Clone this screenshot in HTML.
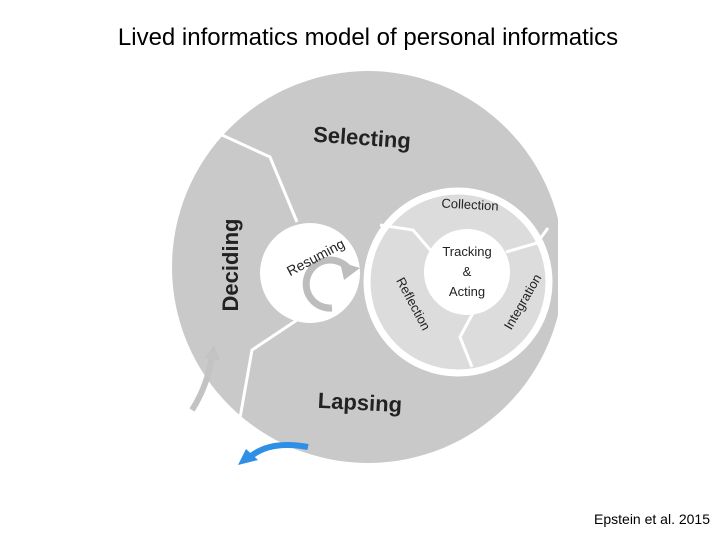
<!DOCTYPE html>
<html><head><style>
body{margin:0;width:720px;height:540px;background:#fff;overflow:hidden;position:relative;font-family:"Liberation Sans",sans-serif}
.t{position:absolute;left:0;width:736px;top:24px;text-align:center;font-size:24px;color:#000}
.c{position:absolute;right:10px;top:511px;font-size:14px;color:#000}
</style></head><body>
<div class="t">Lived informatics model of personal informatics</div>
<svg width="720" height="540" style="position:absolute;left:0;top:0">
<defs><clipPath id="cl"><rect x="0" y="0" width="558" height="540"/></clipPath></defs>
<g clip-path="url(#cl)">
<circle cx="368" cy="267" r="196" fill="#c9c9c9"/>
<polyline points="222,135 270,157 297,222" fill="none" stroke="#fff" stroke-width="3"/>
<polyline points="297,320 252,350 240,418" fill="none" stroke="#fff" stroke-width="3"/>
<circle cx="310" cy="273" r="50" fill="#fff"/>
<path d="M348,268 A24,24 0 1 0 332,308" fill="none" stroke="#bdbdbd" stroke-width="7"/>
<polygon points="340,262 360,268 344,280" fill="#bdbdbd"/>
<circle cx="458" cy="282" r="91" fill="#dcdcdc" stroke="#fff" stroke-width="7"/>
<polyline points="380,225 413,230 432,252" fill="none" stroke="#fff" stroke-width="3"/>
<polyline points="548,228 537,243 506,252" fill="none" stroke="#fff" stroke-width="3"/>
<polyline points="473,313 460,337 472,367" fill="none" stroke="#fff" stroke-width="3"/>
<circle cx="467" cy="272" r="43" fill="#fff"/>
</g>
<path d="M192,410 Q208,385 212,355" fill="none" stroke="#c3c3c3" stroke-width="6"/>
<polygon points="204,358 214,345 220,360" fill="#c3c3c3"/>
<path d="M308,447 Q270,440 250,457" fill="none" stroke="#2f8fe6" stroke-width="6"/>
<polygon points="238,465 246,449 258,460" fill="#2f8fe6"/>
<g font-family="Liberation Sans,sans-serif" fill="#222">
<text x="362" y="145" font-size="22" font-weight="bold" text-anchor="middle" transform="rotate(4 362 138)">Selecting</text>
<text x="230" y="265" font-size="22" font-weight="bold" text-anchor="middle" transform="rotate(-90 230 265)" dy="8">Deciding</text>
<text x="360" y="410" font-size="22" font-weight="bold" text-anchor="middle" transform="rotate(3 360 402)">Lapsing</text>
<text x="316" y="262" font-size="14" text-anchor="middle" transform="rotate(-28 316 258)">Resuming</text>
<text x="470" y="209" font-size="13" text-anchor="middle" transform="rotate(3 470 205)">Collection</text>
<text x="467" y="256" font-size="13" text-anchor="middle">Tracking</text>
<text x="467" y="276" font-size="13" text-anchor="middle">&amp;</text>
<text x="467" y="296" font-size="13" text-anchor="middle">Acting</text>
<text x="413" y="308" font-size="13" text-anchor="middle" transform="rotate(62 413 304)">Reflection</text>
<text x="523" y="306" font-size="13" text-anchor="middle" transform="rotate(-60 523 302)">Integration</text>
</g>
</svg>
<div class="c">Epstein et al. 2015</div>
</body></html>
